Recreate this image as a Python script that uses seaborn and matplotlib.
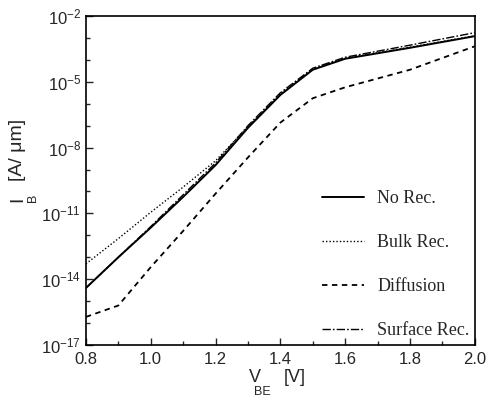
import numpy as np
import pandas as pd
import matplotlib
matplotlib.use("Agg")
import matplotlib.pyplot as plt
import seaborn as sns
from matplotlib.ticker import NullFormatter, FixedLocator

# base-emitter voltage [V]
v_be = [0.8, 0.9, 1.0, 1.1, 1.2, 1.3, 1.4, 1.5, 1.6, 1.8, 2.0]

# log10 of base current I_B [A/um]
log_no_rec = [-14.4, -13.0, -11.65, -10.25, -8.8, -7.1, -5.6, -4.45, -3.95, -3.45, -2.92]
log_bulk_rec = [-13.3, -12.15, -10.95, -9.8, -8.6, -7.05, -5.55, -4.42, -3.93, -3.42, -2.9]
log_diffusion = [-15.72, -15.2, -13.45, -11.8, -10.1, -8.45, -6.86, -5.75, -5.25, -4.45, -3.38]
log_surface_rec = [-14.4, -13.0, -11.6, -10.15, -8.7, -7.0, -5.5, -4.38, -3.88, -3.33, -2.76]

series_names = ["No Rec.", "Bulk Rec.", "Diffusion", "Surface Rec."]

sns.set_style("ticks")
plt.rcParams['font.family'] = ['Liberation Sans', 'DejaVu Sans']
plt.rcParams['mathtext.fontset'] = 'custom'
plt.rcParams['mathtext.rm'] = 'Liberation Sans'
plt.rcParams['mathtext.it'] = 'Liberation Sans'
plt.rcParams['axes.unicode_minus'] = False

fig = plt.figure(figsize=(4.91, 4.0), dpi=100)
ax = fig.add_axes([0.175, 0.1375, 0.792, 0.8225])

curves = [log_no_rec, log_bulk_rec, log_diffusion, log_surface_rec]
styles = [dict(linestyle='-', linewidth=1.4),
          dict(linestyle=(0, (1, 1.5)), linewidth=1.0),
          dict(linestyle=(0, (3, 2.5)), linewidth=1.3),
          dict(linestyle=(0, (6, 1.5, 1.2, 1.5)), linewidth=1.0)]

for name, vals, st in zip(series_names, curves, styles):
    sns.lineplot(x=v_be, y=10.0 ** np.array(vals), ax=ax, color='black',
                 label=name, **st)

ax.set_yscale('log')
ax.set_xlim(0.8, 2.0)
ax.set_ylim(1e-17, 1e-2)
ax.set_xticks([0.8, 1.0, 1.2, 1.4, 1.6, 1.8, 2.0])
ax.set_xticks(np.arange(0.8, 2.01, 0.1), minor=True)
ax.set_xticklabels(["0.8", "1.0", "1.2", "1.4", "1.6", "1.8", "2.0"])
ax.yaxis.set_major_locator(FixedLocator([10.0 ** e for e in range(-17, -1, 3)]))
ax.yaxis.set_minor_locator(FixedLocator([10.0 ** e for e in range(-17, -1)]))
ax.yaxis.set_minor_formatter(NullFormatter())
ax.tick_params(which='both', direction='in', top=False, right=False, labelsize=12, width=1.0)
ax.tick_params(which='major', length=5)
ax.tick_params(which='minor', length=3)
ax.tick_params(axis='x', which='major', pad=5)
for sp in ax.spines.values():
    sp.set_linewidth(1.2)
    sp.set_color('black')
ax.set_xlabel("")
ax.set_ylabel("")

leg = ax.legend(loc='upper left', frameon=False,
                bbox_to_anchor=(315 / 491, 1 - 183 / 400),
                bbox_transform=fig.transFigure,
                prop={'family': 'Liberation Serif', 'size': 13},
                labelspacing=1.5, handlelength=2.3, handletextpad=0.75,
                borderaxespad=0.0)

# axis labels with detached subscripts as in the original
fig.text(255 / 491, 1 - 377 / 400, "V", fontsize=13, ha='center', va='center')
fig.text(295 / 491, 1 - 377 / 400, "[V]", fontsize=13, ha='center', va='center')
fig.text(262 / 491, 1 - 392 / 400, "BE", fontsize=9, ha='center', va='center')
fig.text(18 / 491, 1 - 199 / 400, "I", fontsize=14, ha='center', va='center', rotation=90)
fig.text(33 / 491, 1 - 198 / 400, "B", fontsize=9, ha='center', va='center', rotation=90)
fig.text(18 / 491, 1 - 150 / 400, "[A/ \u03bcm]", fontsize=14, ha='center', va='center', rotation=90)

fig.savefig("out.png", dpi=100)
